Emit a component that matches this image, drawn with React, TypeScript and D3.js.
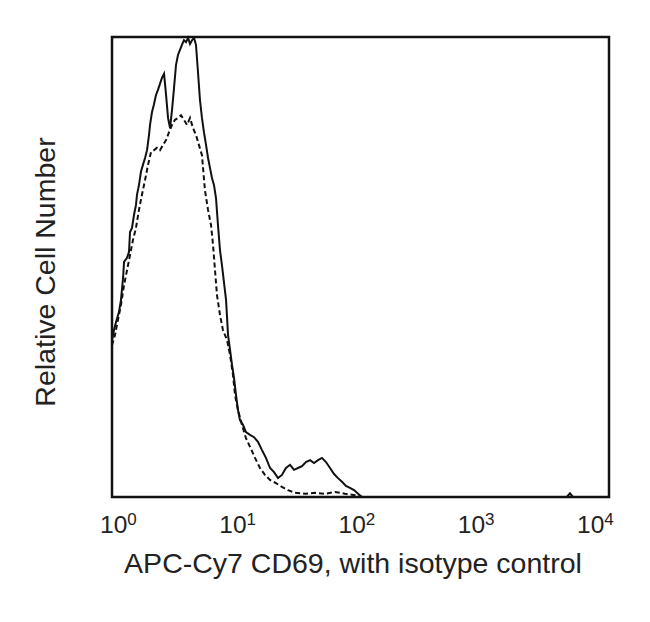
import * as React from "react";
import * as d3 from "d3";

// x in decades (log10 of APC-Cy7 intensity), y = relative cell number (% of max)
const stainedX = [0, 0.016, 0.032, 0.056, 0.072, 0.089, 0.097, 0.121, 0.137, 0.145, 0.161, 0.177, 0.193, 0.201, 0.217, 0.233, 0.249, 0.266, 0.282, 0.298, 0.306, 0.322, 0.338, 0.354, 0.37, 0.386, 0.402, 0.419, 0.435, 0.451, 0.467, 0.483, 0.499, 0.515, 0.531, 0.547, 0.563, 0.579, 0.596, 0.612, 0.628, 0.644, 0.66, 0.676, 0.692, 0.708, 0.724, 0.74, 0.757, 0.773, 0.789, 0.805, 0.821, 0.837, 0.853, 0.869, 0.885, 0.901, 0.918, 0.934, 0.95, 0.966, 0.982, 0.998, 1.014, 1.03, 1.054, 1.078, 1.111, 1.143, 1.175, 1.207, 1.239, 1.272, 1.304, 1.336, 1.368, 1.4, 1.433, 1.465, 1.497, 1.529, 1.561, 1.594, 1.626, 1.658, 1.69, 1.722, 1.755, 1.787, 1.819, 1.851, 1.883, 1.915, 1.948, 1.98, 2.012, 2.2, 3.66, 3.686, 3.71, 4];
const stainedY = [34.1, 36.3, 38.0, 40.2, 42.8, 47.6, 51.1, 52.0, 53.3, 57.6, 58.5, 61.3, 63.5, 65.7, 67.8, 70.7, 72.2, 73.7, 75.4, 78.7, 80.9, 83.7, 85.4, 87.4, 88.5, 89.8, 91.1, 92.0, 87.4, 82.4, 80.2, 84.1, 88.9, 93.9, 96.1, 97.2, 98.3, 99.3, 98.9, 99.8, 98.5, 99.3, 99.8, 98.3, 92.4, 86.3, 82.4, 79.3, 76.5, 73.7, 71.5, 69.3, 67.8, 65.0, 59.1, 53.7, 50.4, 46.7, 42.8, 35.2, 32.0, 28.7, 25.9, 22.2, 18.9, 16.7, 15.7, 14.1, 13.5, 13.0, 12.0, 10.2, 8.5, 6.3, 5.4, 4.1, 4.8, 6.3, 7.0, 5.9, 6.3, 6.7, 7.6, 8.0, 7.4, 8.0, 8.5, 7.6, 6.3, 5.0, 4.1, 3.3, 2.4, 2.0, 1.5, 0.7, 0, 0, 0, 0.8, 0, 0];

const isotypeX = [0, 0.024, 0.048, 0.072, 0.097, 0.121, 0.145, 0.169, 0.193, 0.217, 0.241, 0.266, 0.29, 0.314, 0.338, 0.362, 0.386, 0.41, 0.435, 0.459, 0.483, 0.507, 0.531, 0.555, 0.579, 0.604, 0.628, 0.652, 0.676, 0.7, 0.724, 0.748, 0.773, 0.797, 0.813, 0.829, 0.845, 0.869, 0.893, 0.926, 0.95, 0.974, 0.99, 1.014, 1.046, 1.078, 1.111, 1.151, 1.191, 1.231, 1.272, 1.32, 1.368, 1.416, 1.473, 1.553, 1.634, 1.714, 1.795, 1.875, 1.956, 2.012];
const isotypeY = [33.0, 35.2, 38.5, 41.7, 46.1, 49.3, 52.6, 55.9, 58.5, 62.4, 65.7, 68.9, 72.2, 75.0, 75.4, 75.9, 75.4, 76.5, 77.6, 79.3, 80.9, 82.0, 82.4, 83.0, 82.0, 80.9, 82.4, 80.2, 78.7, 76.5, 74.3, 66.7, 62.4, 59.1, 54.8, 49.3, 43.9, 39.6, 36.3, 34.1, 30.9, 26.5, 22.2, 18.9, 15.7, 12.8, 10.9, 8.5, 6.3, 4.8, 3.7, 3.0, 2.2, 1.5, 0.9, 0.7, 0.9, 0.7, 1.1, 0.7, 0.4, 0];

const decades = [0, 1, 2, 3, 4];
const xTitle = "APC-Cy7 CD69, with isotype control";
const yTitle = "Relative Cell Number";

const W = 650;
const H = 622;
const plot = { left: 112, right: 609, top: 37, bottom: 497 };
const FONT = "'Liberation Sans', Arial, sans-serif";

export default function App() {
  const x = d3.scaleLinear().domain([0, 4]).range([plot.left, plot.right]);
  const y = d3.scaleLinear().domain([0, 100]).range([plot.bottom, plot.top]);

  const line = d3
    .line<[number, number]>()
    .x((d) => x(d[0]))
    .y((d) => y(d[1]));

  const stained = line(d3.zip(stainedX, stainedY) as [number, number][]) ?? "";
  const isotype = line(d3.zip(isotypeX, isotypeY) as [number, number][]) ?? "";

  return (
    <svg
      width={W}
      height={H}
      style={{ position: "absolute", left: 0, top: 0, background: "#fff" }}
    >
      <defs>
        <clipPath id="plot-clip">
          <rect x={plot.left} y={plot.top - 2} width={plot.right - plot.left} height={plot.bottom - plot.top + 2} />
        </clipPath>
      </defs>

      <g clipPath="url(#plot-clip)" fill="none" stroke="#111">
        <path d={isotype} strokeWidth={2} strokeDasharray="5 3" />
        <path d={stained} strokeWidth={2} />
      </g>

      <rect
        x={plot.left}
        y={plot.top}
        width={plot.right - plot.left}
        height={plot.bottom - plot.top}
        fill="none"
        stroke="#111"
        strokeWidth={2.5}
      />

      <g fontFamily={FONT} fill="#222">
        {decades.map((n) => (
          <text key={n} x={x(n) - 12 - 5 * n} y={533} fontSize={24.5}>
            10
            <tspan fontSize={17} dy={-8}>
              {n}
            </tspan>
          </text>
        ))}
        <text x={353} y={573} fontSize={28.5} textAnchor="middle">
          {xTitle}
        </text>
        <text
          transform={`translate(55, 272) rotate(-90)`}
          fontSize={28.5}
          textAnchor="middle"
        >
          {yTitle}
        </text>
      </g>
    </svg>
  );
}
